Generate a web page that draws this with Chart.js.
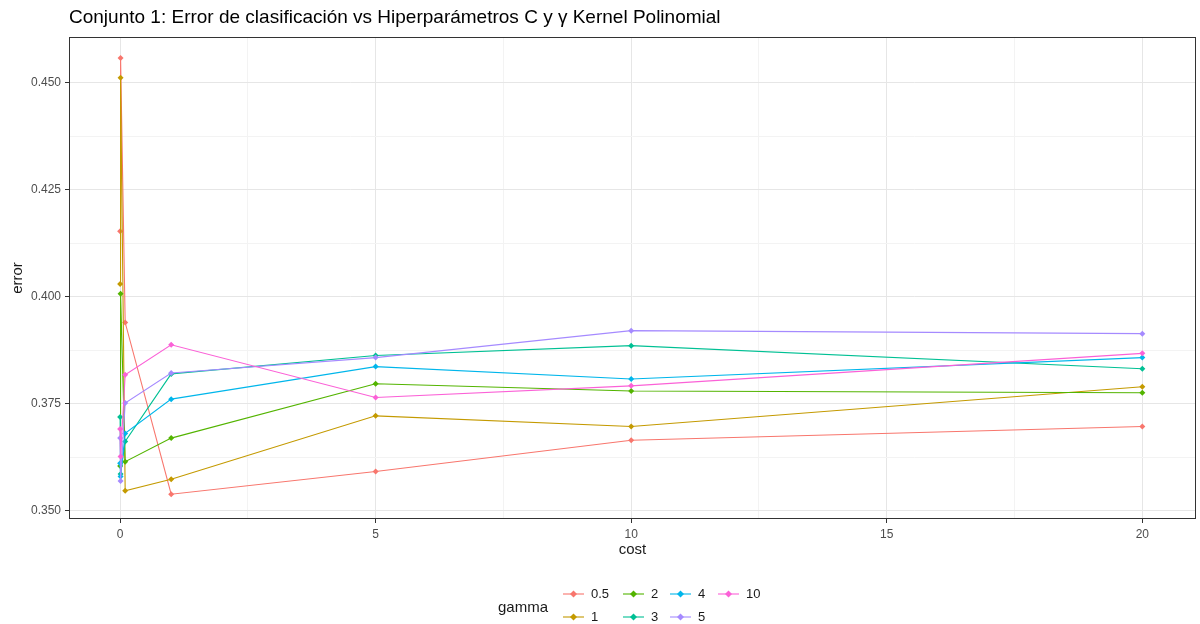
<!DOCTYPE html>
<html>
<head>
<meta charset="utf-8">
<script src="https://cdn.jsdelivr.net/npm/chart.js@4"></script>
<style>
  html, body { margin: 0; padding: 0; background: #fff; }
  #wrap { width: 1200px; height: 624px; }
</style>
</head>
<body>
<div id="wrap"><canvas id="chartCanvas" width="1200" height="624"></canvas></div>
<script>
// cost values (x) and gamma groups
const costs = [0.001, 0.01, 0.1, 1, 5, 10, 20];
const gammas = ["0.5", "1", "2", "3", "4", "5", "10"];

// error per gamma, in order of costs
const errG05 = [0.4153, 0.4558, 0.3940, 0.3539, 0.3592, 0.3665, 0.3697];
const errG1  = [0.4030, 0.4512, 0.3547, 0.3574, 0.3722, 0.3697, 0.3790];
const errG2  = [0.3605, 0.4007, 0.3615, 0.3670, 0.3797, 0.3780, 0.3776];
const errG3  = [0.3719, 0.3586, 0.3662, 0.3820, 0.3863, 0.3886, 0.3832];
const errG4  = [0.3611, 0.3580, 0.3681, 0.3761, 0.3837, 0.3808, 0.3858];
const errG5  = [0.3670, 0.3570, 0.3752, 0.3822, 0.3858, 0.3921, 0.3914];
const errG10 = [0.3691, 0.3627, 0.3818, 0.3888, 0.3765, 0.3792, 0.3868];

// axis ticks (major ones get labels, the others are minor grid lines)
const xTicks = [0, 2.5, 5, 7.5, 10, 12.5, 15, 17.5, 20];
const xLabels = ["0", "", "5", "", "10", "", "15", "", "20"];
const yTicks = [0.35, 0.3625, 0.375, 0.3875, 0.4, 0.4125, 0.425, 0.4375, 0.45];
const yLabels = ["0.350", "", "0.375", "", "0.400", "", "0.425", "", "0.450"];

const series = [errG05, errG1, errG2, errG3, errG4, errG5, errG10];
const colors = ["#F8766D", "#C49A00", "#53B400", "#00C094", "#00B6EB", "#A58AFF", "#FB61D7"];

const FONT = "'Liberation Sans', Arial, sans-serif";
const MAJOR = "#e6e6e6";
const MINOR = "#f3f3f3";

const datasets = series.map((vals, i) => ({
  label: gammas[i],
  data: costs.map((c, j) => ({ x: c, y: vals[j] })),
  borderColor: colors[i],
  backgroundColor: colors[i],
  borderWidth: 1.1,
  pointStyle: "rectRot",
  pointRadius: 3,
  pointBorderWidth: 0,
  order: 10 - i,
  tension: 0
}));

// title, panel border and the ggplot-style legend
const extras = {
  id: "extras",
  afterDraw(chart) {
    const ctx = chart.ctx;
    const a = chart.chartArea;
    ctx.save();
    ctx.strokeStyle = "#333333";
    ctx.lineWidth = 1;
    ctx.strokeRect(a.left + 0.5, a.top + 0.5, a.right - a.left - 1, a.bottom - a.top - 1);

    ctx.fillStyle = "#000";
    ctx.font = "19px " + FONT;
    ctx.textBaseline = "middle";
    ctx.textAlign = "left";
    ctx.fillText("Conjunto 1: Error de clasificación vs Hiperparámetros C y γ Kernel Polinomial", 69, 18);

    ctx.font = "15px " + FONT;
    ctx.fillStyle = "#1a1a1a";
    ctx.fillText("gamma", 498, 608);

    const colX = [563, 623, 670, 718];
    const rowY = [594, 617];
    ctx.font = "13px " + FONT;
    gammas.forEach((g, i) => {
      const col = Math.floor(i / 2);
      const row = i % 2;
      const x = colX[col];
      const y = rowY[row];
      ctx.strokeStyle = colors[i];
      ctx.lineWidth = 1.1;
      ctx.beginPath();
      ctx.moveTo(x, y);
      ctx.lineTo(x + 21, y);
      ctx.stroke();
      ctx.fillStyle = colors[i];
      ctx.beginPath();
      ctx.moveTo(x + 10.5, y - 3.5);
      ctx.lineTo(x + 14, y);
      ctx.lineTo(x + 10.5, y + 3.5);
      ctx.lineTo(x + 7, y);
      ctx.closePath();
      ctx.fill();
      ctx.fillStyle = "#1a1a1a";
      ctx.fillText(g, x + 28, y);
    });
    ctx.restore();
  }
};

const ctx = document.getElementById("chartCanvas").getContext("2d");
new Chart(ctx, {
  type: "line",
  data: { datasets: datasets },
  plugins: [extras],
  options: {
    responsive: false,
    animation: false,
    layout: { padding: { top: 37, right: 4, bottom: 60, left: 0 } },
    plugins: {
      legend: { display: false },
      title: { display: false },
      tooltip: { enabled: false }
    },
    scales: {
      x: {
        type: "linear",
        min: -0.999,
        max: 21.05,
        afterBuildTicks: s => { s.ticks = xTicks.map(v => ({ value: v })); },
        afterFit: s => { s.height = 45; },
        ticks: {
          autoSkip: false,
          maxRotation: 0,
          padding: 4,
          color: "#4d4d4d",
          font: { family: FONT, size: 12 },
          callback: (v, i) => xLabels[i]
        },
        grid: {
          color: c => (c.index % 2 === 0 ? MAJOR : MINOR),
          tickColor: c => (c.index % 2 === 0 ? "#333333" : "rgba(0,0,0,0)"),
          tickLength: 4,
          lineWidth: 1
        },
        border: { display: false },
        title: {
          display: true,
          text: "cost",
          color: "#1a1a1a",
          font: { family: FONT, size: 15 },
          padding: { top: 0, bottom: 5 }
        }
      },
      y: {
        type: "linear",
        min: 0.3481,
        max: 0.4607,
        afterBuildTicks: s => { s.ticks = yTicks.map(v => ({ value: v })); },
        afterFit: s => { s.width = 69; },
        ticks: {
          autoSkip: false,
          padding: 4,
          color: "#4d4d4d",
          font: { family: FONT, size: 12 },
          callback: (v, i) => yLabels[i]
        },
        grid: {
          color: c => (c.index % 2 === 0 ? MAJOR : MINOR),
          tickColor: c => (c.index % 2 === 0 ? "#333333" : "rgba(0,0,0,0)"),
          tickLength: 4,
          lineWidth: 1
        },
        border: { display: false },
        title: {
          display: true,
          text: "error",
          color: "#1a1a1a",
          font: { family: FONT, size: 15 },
          padding: { top: 9, bottom: 0 }
        }
      }
    }
  }
});
</script>
</body>
</html>
